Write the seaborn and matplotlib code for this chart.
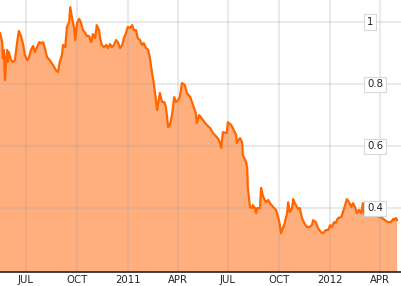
import matplotlib
matplotlib.use("Agg")
import matplotlib.pyplot as plt
import matplotlib.dates as mdates
import matplotlib.transforms as mtransforms
import pandas as pd
import seaborn as sns

dates = [
    "2010-05-15", "2010-05-19", "2010-05-20", "2010-05-22", "2010-05-24", "2010-05-26",
    "2010-05-28", "2010-05-29", "2010-05-31", "2010-06-04", "2010-06-07", "2010-06-11",
    "2010-06-15", "2010-06-18", "2010-06-22", "2010-06-26", "2010-06-29", "2010-07-03",
    "2010-07-06", "2010-07-10", "2010-07-14", "2010-07-17", "2010-07-21", "2010-07-25",
    "2010-07-28", "2010-08-01", "2010-08-04", "2010-08-08", "2010-08-13", "2010-08-19",
    "2010-08-24", "2010-08-28", "2010-08-31", "2010-09-04", "2010-09-06", "2010-09-10",
    "2010-09-13", "2010-09-17", "2010-09-19", "2010-09-22", "2010-09-26", "2010-09-28",
    "2010-10-01", "2010-10-05", "2010-10-08", "2010-10-12", "2010-10-16", "2010-10-19",
    "2010-10-23", "2010-10-27", "2010-10-30", "2010-11-03", "2010-11-06", "2010-11-10",
    "2010-11-12", "2010-11-15", "2010-11-19", "2010-11-23", "2010-11-26", "2010-11-30",
    "2010-12-03", "2010-12-07", "2010-12-11", "2010-12-14", "2010-12-18", "2010-12-22",
    "2010-12-25", "2010-12-29", "2011-01-01", "2011-01-05", "2011-01-09", "2011-01-12",
    "2011-01-16", "2011-01-19", "2011-01-23", "2011-01-27", "2011-01-30", "2011-02-03",
    "2011-02-07", "2011-02-10", "2011-02-14", "2011-02-17", "2011-02-21", "2011-02-23",
    "2011-02-28", "2011-03-04", "2011-03-08", "2011-03-11", "2011-03-15", "2011-03-18",
    "2011-03-22", "2011-03-26", "2011-03-29", "2011-04-02", "2011-04-05", "2011-04-09",
    "2011-04-14", "2011-04-18", "2011-04-24", "2011-04-29", "2011-05-04", "2011-05-06",
    "2011-05-10", "2011-05-17", "2011-05-21", "2011-05-24", "2011-05-30", "2011-06-04",
    "2011-06-11", "2011-06-15", "2011-06-19", "2011-06-22", "2011-06-29", "2011-07-01",
    "2011-07-07", "2011-07-10", "2011-07-16", "2011-07-17", "2011-07-23", "2011-07-27",
    "2011-07-28", "2011-08-03", "2011-08-05", "2011-08-06", "2011-08-10", "2011-08-14",
    "2011-08-15", "2011-08-19", "2011-08-21", "2011-08-23", "2011-08-28", "2011-08-30",
    "2011-09-02", "2011-09-04", "2011-09-08", "2011-09-12", "2011-09-15", "2011-09-21",
    "2011-09-26", "2011-09-30", "2011-10-03", "2011-10-05", "2011-10-09", "2011-10-10",
    "2011-10-16", "2011-10-18", "2011-10-21", "2011-10-25", "2011-10-27", "2011-10-30",
    "2011-11-03", "2011-11-05", "2011-11-08", "2011-11-12", "2011-11-16", "2011-11-21",
    "2011-11-25", "2011-11-30", "2011-12-02", "2011-12-07", "2011-12-11", "2011-12-16",
    "2011-12-20", "2011-12-25", "2011-12-29", "2012-01-02", "2012-01-05", "2012-01-09",
    "2012-01-12", "2012-01-16", "2012-01-22", "2012-01-25", "2012-01-29", "2012-02-01",
    "2012-02-05", "2012-02-09", "2012-02-12", "2012-02-16", "2012-02-19", "2012-02-23",
    "2012-02-27", "2012-03-01", "2012-03-03", "2012-03-09", "2012-03-14", "2012-03-23",
    "2012-03-28", "2012-04-05", "2012-04-10", "2012-04-15", "2012-04-21", "2012-04-25",
    "2012-04-26", "2012-04-30", "2012-05-02",
]

values = [
    0.965, 0.935, 0.884, 0.910, 0.813, 0.877,
    0.910, 0.871, 0.903, 0.877, 0.871, 0.877,
    0.935, 0.971, 0.955, 0.926, 0.894, 0.877,
    0.884, 0.910, 0.923, 0.903, 0.919, 0.935,
    0.932, 0.935, 0.916, 0.887, 0.877, 0.861,
    0.845, 0.839, 0.871, 0.894, 0.926, 0.919,
    0.984, 1.000, 1.048, 1.016, 0.981, 0.942,
    0.994, 1.010, 1.000, 0.974, 0.965, 0.955,
    0.955, 0.935, 0.961, 0.948, 0.990, 0.974,
    0.948, 0.926, 0.919, 0.926, 0.916, 0.929,
    0.919, 0.926, 0.942, 0.935, 0.916, 0.926,
    0.948, 0.965, 0.984, 0.981, 0.990, 0.974,
    0.974, 0.948, 0.942, 0.926, 0.932, 0.916,
    0.910, 0.884, 0.835, 0.803, 0.748, 0.716,
    0.771, 0.742, 0.742, 0.726, 0.661, 0.668,
    0.700, 0.758, 0.742, 0.748, 0.758, 0.803,
    0.797, 0.771, 0.758, 0.732, 0.706, 0.674,
    0.700, 0.684, 0.674, 0.668, 0.658, 0.642,
    0.629, 0.619, 0.594, 0.645, 0.642, 0.677,
    0.668, 0.658, 0.635, 0.610, 0.626, 0.610,
    0.571, 0.548, 0.529, 0.468, 0.403, 0.400,
    0.410, 0.400, 0.384, 0.400, 0.400, 0.465,
    0.442, 0.432, 0.419, 0.426, 0.416, 0.403,
    0.394, 0.371, 0.345, 0.319, 0.339, 0.339,
    0.384, 0.419, 0.387, 0.400, 0.429, 0.416,
    0.403, 0.397, 0.400, 0.368, 0.352, 0.339,
    0.339, 0.345, 0.361, 0.355, 0.335, 0.323,
    0.319, 0.329, 0.329, 0.345, 0.339, 0.355,
    0.352, 0.368, 0.371, 0.387, 0.410, 0.429,
    0.419, 0.403, 0.416, 0.403, 0.384, 0.394,
    0.384, 0.416, 0.384, 0.384, 0.381, 0.377,
    0.374, 0.368, 0.361, 0.355, 0.355, 0.365,
    0.361, 0.368, 0.361,
]

ytick_values = [0.4, 0.6, 0.8, 1.0]
ytick_labels = ["0.4", "0.6", "0.8", "1"]
x_range = ["2010-05-15", "2012-05-09"]
y_range = [0.194, 1.071]

df = pd.DataFrame({"date": pd.to_datetime(dates), "value": values})

sns.set_style("white")
plt.rcParams["font.family"] = ["DejaVu Sans"]

fig = plt.figure(figsize=(4.01, 2.86), dpi=100)
ax = fig.add_axes([0, 14 / 286, 1, 272 / 286])

fill_color = "#FFAF7D"
line_color = "#FF6600"

ax.fill_between(df["date"], df["value"], y_range[0] - 1, color=fill_color, lw=0, zorder=1)
sns.lineplot(data=df, x="date", y="value", ax=ax, color=line_color, lw=1.6, zorder=3)

ax.set_xlim(pd.to_datetime(x_range[0]), pd.to_datetime(x_range[1]))
ax.set_ylim(*y_range)

ax.xaxis.set_major_locator(mdates.MonthLocator(bymonth=[1, 4, 7, 10]))


def fmt(x, pos):
    d = mdates.num2date(x)
    return str(d.year) if d.month == 1 else d.strftime("%b").upper()


ax.xaxis.set_major_formatter(plt.FuncFormatter(fmt))
ax.set_yticks(ytick_values)
ax.set_yticklabels([])
ax.tick_params(axis="y", length=0, left=False, labelleft=False)
ax.tick_params(axis="x", length=0, pad=2.5, labelsize=7.3, colors="#222222")
ax.set_xlabel("")
ax.set_ylabel("")

ax.set_axisbelow(False)
ax.grid(True, color="#a0a0a0", alpha=0.22, lw=1.5)

for s in ["top", "right", "left"]:
    ax.spines[s].set_visible(False)
ax.spines["bottom"].set_color("#333333")
ax.spines["bottom"].set_linewidth(1.3)
ax.spines["bottom"].set_zorder(5)

trans = mtransforms.blended_transform_factory(ax.transAxes, ax.transData)
for v, lab in zip(ytick_values, ytick_labels):
    ax.text(367 / 401, v, lab, transform=trans, ha="left", va="center",
            fontsize=7.3, color="#222222", zorder=6,
            bbox=dict(boxstyle="square,pad=0.25", facecolor="white",
                      edgecolor="#d8d8d8", lw=0.8))

fig.savefig("out.png", dpi=100)
